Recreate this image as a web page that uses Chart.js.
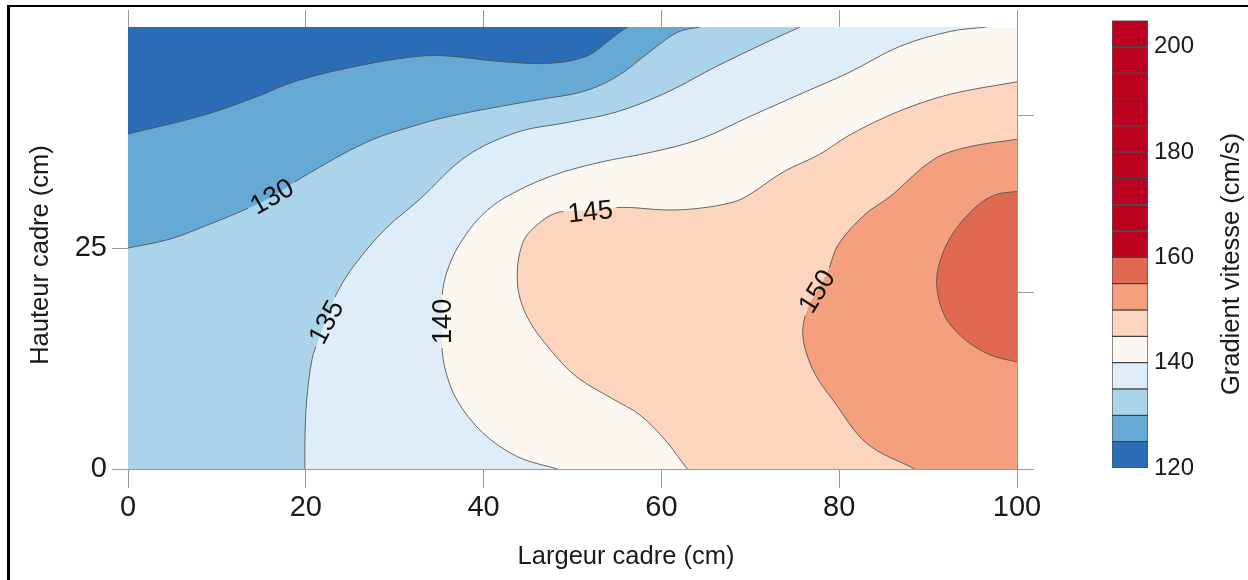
<!DOCTYPE html>
<html><head><meta charset="utf-8">
<script src="https://cdn.jsdelivr.net/npm/chart.js@4.4.1/dist/chart.umd.min.js"></script>
<style>
html,body{margin:0;padding:0;background:#fff;overflow:hidden;width:1248px;height:580px}
#wrap{position:relative;width:1248px;height:580px;overflow:hidden}
#main{position:absolute;left:0;top:0}
#cbar{position:absolute;left:1090px;top:0}
#frame{position:absolute;left:7px;top:5px;width:1400px;height:800px;border-left:3px solid #000;border-top:2px solid #000;pointer-events:none}
</style></head><body>
<div id="wrap">
<canvas id="main" width="1248" height="580"></canvas>
<canvas id="cbar" width="158" height="580"></canvas>
<div id="frame"></div>
</div>
<script>
// ---------- data ----------
const xTicks = [0, 20, 40, 60, 80, 100];
const yTicks = [0, 25];
const yRightTicks = [0, 20, 40];
const levels = [125, 130, 135, 140, 145, 150, 155];

// contour lines (x = largeur cm, y = hauteur cm)
const contour125 = [[0,37.9],[8.1,39.9],[13.7,41.8],[19.3,44.0],[26.9,45.8],[32.8,46.7],[36.2,46.7],[41.8,46.1],[47.5,45.9],[51.6,46.7],[53.9,48.3],[55.3,49.4],[56.2,50]];
const contour130 = [[0,25],[4.7,26.0],[9.2,27.7],[12.6,29.1],[16.2,30.8],[19.6,33.0],[26.9,37.0],[32.8,39.0],[36.2,39.9],[41.8,41.0],[46.3,41.8],[51.2,42.7],[55.0,44.4],[58.7,47.2],[61.8,49.4],[64.3,50]];
const contour135 = [[19.9,0],[19.9,3.3],[20.1,7.8],[20.7,12.4],[21.4,14.6],[22.5,17.5],[23.6,20.1],[25.5,23.1],[28.9,27.1],[32.8,30.5],[38.1,35.4],[43.8,38.1],[49.4,39.2],[55.0,40.4],[60.6,42.6],[66.3,45.6],[71.9,48.3],[75.6,50]];
const contour140 = [[48.3,0],[43.8,1.4],[39.9,4.1],[37.0,7.8],[35.7,11.2],[35.3,14.1],[35.4,16.7],[35.4,20.3],[36.4,23.7],[38.0,26.5],[39.8,28.7],[42.4,30.7],[47.5,33.1],[53.1,34.7],[58.7,35.8],[64.3,37.3],[70.0,39.9],[75.6,42.4],[81.2,44.9],[86.8,47.8],[92.5,49.5],[96.6,50]];
const contour145 = [[62.9,0],[60.4,3.3],[57.6,6.1],[54.4,8.0],[50.5,10.4],[47.5,13.5],[44.9,17.2],[43.8,21.1],[44.4,25.6],[46.1,27.7],[48.3,29.0],[52.0,29.3],[55.7,29.6],[60.6,29.3],[64.3,29.5],[68.1,30.2],[70.0,31.1],[73.7,33.6],[77.8,35.6],[81.2,37.8],[86.8,40.5],[92.5,42.4],[100,43.8]];
const contour150 = [[88.5,0],[83.1,2.9],[79.3,7.8],[77.3,10.7],[76.2,13.5],[75.9,15.8],[76.5,18.3],[77.5,20.1],[78.7,22.3],[79.9,25.4],[82.9,28.8],[85.7,30.8],[90.6,35.0],[94.4,36.4],[100,37.3]];
const contour155 = [[100,31.4],[97.5,31.0],[95.1,29.4],[92.5,26.2],[91.1,22.6],[91.1,19.7],[92.1,16.9],[94.2,14.6],[97.0,12.9],[100,12.1]];

// which plot corners close the region "value > level"
const regionCorners = [['TR','BR','BL'],['TR','BR','BL'],['TR','BR'],['TR','BR'],['BR'],['BR'],[]];

// contour labels
const labelText = ['130','135','140','145','150'];
const labelX = [16.2, 22.3, 35.4, 52.0, 77.5];
const labelY = [30.8, 16.6, 16.7, 29.1, 20.1];

// colour bar
const cbarEdges = [120,125,130,135,140,145,150,155,160,165,170,175,180,185,190,195,200,205];
const cbarTicks = [120, 140, 160, 180, 200];

// ---------- styles ----------
const FONT = "'Liberation Sans', Arial, Helvetica, sans-serif";
const labelAngle = [-30, -62, -90, -6, -58];
const bandColors = ['#2a6db5','#67a9d5','#abd3ea','#deedf8','#fdf7f2','#fdd5bf','#f4a07f','#df6a51'];
const topColor = '#bb0020';
const axisGray = '#999999';

const contours = [contour125, contour130, contour135, contour140, contour145, contour150, contour155];

function labelIndexFor(dsIndex) {
  const lvl = String(levels[dsIndex]);
  const out = [];
  labelText.forEach((t, i) => { if (t === lvl) out.push(i); });
  return out;
}

const contourPlugin = {
  id: 'contourFill',
  beforeDatasetsDraw(chart) {
    const {ctx, chartArea: a, scales: {x, y}} = chart;
    const corner = k => ({
      TR: [x.getPixelForValue(x.max), y.getPixelForValue(y.max)],
      BR: [x.getPixelForValue(x.max), y.getPixelForValue(y.min)],
      BL: [x.getPixelForValue(x.min), y.getPixelForValue(y.min)],
      TL: [x.getPixelForValue(x.min), y.getPixelForValue(y.max)]
    })[k];
    ctx.save();
    ctx.beginPath();
    ctx.rect(a.left, a.top, a.right - a.left, a.bottom - a.top);
    ctx.clip();
    ctx.fillStyle = bandColors[0];
    ctx.fillRect(a.left, a.top, a.right - a.left, a.bottom - a.top);
    contours.forEach((c, i) => {
      const meta = chart.getDatasetMeta(i);
      const line = meta.dataset;
      line.updateControlPoints(a, 'x');
      ctx.beginPath();
      line.path(ctx);
      regionCorners[i].forEach(k => { const p = corner(k); ctx.lineTo(p[0], p[1]); });
      ctx.closePath();
      ctx.fillStyle = bandColors[i + 1];
      ctx.fill();
    });
    ctx.restore();
  },
  beforeDatasetDraw(chart, args) {
    const idx = labelIndexFor(args.index);
    if (!idx.length) return;
    const {ctx, scales: {x, y}} = chart;
    ctx.save();
    ctx.font = '27px ' + FONT;
    ctx.beginPath();
    ctx.rect(0, 0, chart.width, chart.height);
    idx.forEach(i => {
      const cx = x.getPixelForValue(labelX[i]);
      const cy = y.getPixelForValue(labelY[i]);
      const w = ctx.measureText(labelText[i]).width + 8;
      const h = 24;
      const t = labelAngle[i] * Math.PI / 180;
      const c = Math.cos(t), s = Math.sin(t);
      const pts = [[-w/2,-h/2],[w/2,-h/2],[w/2,h/2],[-w/2,h/2]].map(([u,v]) => [cx + u*c - v*s, cy + u*s + v*c]);
      ctx.moveTo(pts[0][0], pts[0][1]);
      for (let k = 1; k < 4; k++) ctx.lineTo(pts[k][0], pts[k][1]);
      ctx.closePath();
    });
    ctx.clip('evenodd');
  },
  afterDatasetDraw(chart, args) {
    if (labelIndexFor(args.index).length) chart.ctx.restore();
  },
  afterDatasetsDraw(chart) {
    const {ctx, scales: {x, y}} = chart;
    ctx.save();
    ctx.font = '27px ' + FONT;
    ctx.fillStyle = '#111';
    ctx.textAlign = 'center';
    ctx.textBaseline = 'middle';
    labelText.forEach((t, i) => {
      ctx.save();
      ctx.translate(x.getPixelForValue(labelX[i]), y.getPixelForValue(labelY[i]));
      ctx.rotate(labelAngle[i] * Math.PI / 180);
      ctx.fillText(t, 0, 1);
      ctx.restore();
    });
    ctx.restore();
  },
  afterDraw(chart) {
    const {ctx, chartArea: a} = chart;
    ctx.save();
    ctx.fillStyle = '#1a1a1a';
    ctx.font = '25.5px ' + FONT;
    ctx.textAlign = 'center';
    ctx.textBaseline = 'middle';
    ctx.fillText('Largeur cadre (cm)', a.left + 498, a.bottom + 88);
    ctx.translate(41, a.top + 228);
    ctx.rotate(-Math.PI / 2);
    ctx.fillText('Hauteur cadre (cm)', 0, 0);
    ctx.restore();
  }
};

const setTicks = arr => scale => { scale.ticks = arr.map(v => ({value: v})); };

new Chart(document.getElementById('main'), {
  type: 'line',
  data: {
    datasets: contours.map((c, i) => ({
      label: String(levels[i]),
      data: c.map(p => ({x: p[0], y: p[1]})),
      borderColor: 'rgba(80,80,80,0.85)',
      borderWidth: 1,
      pointRadius: 0,
      tension: 0.35,
      fill: false
    }))
  },
  options: {
    responsive: false,
    animation: false,
    events: [],
    layout: {padding: 0},
    plugins: {legend: {display: false}, tooltip: {enabled: false}},
    scales: {
      x: {
        type: 'linear', position: 'bottom', min: 0, max: 100,
        afterBuildTicks: setTicks(xTicks),
        grid: {drawOnChartArea: false, tickLength: 19, color: axisGray, lineWidth: 1},
        border: {color: axisGray, width: 1},
        ticks: {font: {size: 29, family: FONT}, color: '#1a1a1a', padding: 3},
        afterFit: s => { s.height = 111; }
      },
      xTop: {
        type: 'linear', position: 'top', min: 0, max: 100,
        afterBuildTicks: setTicks(xTicks),
        grid: {drawOnChartArea: false, tickLength: 17, color: axisGray, lineWidth: 1},
        border: {color: axisGray, width: 1},
        ticks: {display: false},
        afterFit: s => { s.height = 27; }
      },
      y: {
        type: 'linear', position: 'left', min: 0, max: 50,
        afterBuildTicks: setTicks(yTicks),
        grid: {drawOnChartArea: false, tickLength: 16, color: axisGray, lineWidth: 1},
        border: {color: axisGray, width: 1},
        ticks: {font: {size: 29, family: FONT}, color: '#1a1a1a', padding: 5},
        afterFit: s => { s.width = 128; }
      },
      yRight: {
        type: 'linear', position: 'right', min: 0, max: 50,
        afterBuildTicks: setTicks(yRightTicks),
        grid: {drawOnChartArea: false, tickLength: 17, color: axisGray, lineWidth: 1},
        border: {color: axisGray, width: 1},
        ticks: {display: false},
        afterFit: s => { s.width = 231; }
      }
    }
  },
  plugins: [contourPlugin]
});

// ---------- colour bar ----------
const cbarTitlePlugin = {
  id: 'cbarTitle',
  afterDraw(chart) {
    const {ctx} = chart;
    ctx.save();
    ctx.fillStyle = '#1a1a1a';
    ctx.font = '25.5px ' + FONT;
    ctx.textAlign = 'center';
    ctx.textBaseline = 'middle';
    ctx.translate(142, 264);
    ctx.rotate(-Math.PI / 2);
    ctx.fillText('Gradient vitesse (cm/s)', 0, 0);
    ctx.restore();
  }
};

new Chart(document.getElementById('cbar'), {
  type: 'bar',
  data: {
    labels: [''],
    datasets: cbarEdges.slice(0, -1).map((lo, i) => ({
      data: [[lo, cbarEdges[i + 1]]],
      backgroundColor: i < bandColors.length ? bandColors[i] : topColor,
      borderColor: 'rgba(40,40,40,0.8)',
      borderWidth: 1,
      borderSkipped: false,
      barPercentage: 1,
      categoryPercentage: 1,
      grouped: false
    }))
  },
  options: {
    responsive: false,
    animation: false,
    events: [],
    layout: {padding: {left: 22, top: 20, bottom: 112, right: 0}},
    plugins: {legend: {display: false}, tooltip: {enabled: false}},
    scales: {
      x: {display: false},
      y: {
        position: 'right', min: 120, max: 205,
        afterBuildTicks: setTicks(cbarTicks),
        grid: {display: false, drawTicks: false},
        border: {display: false},
        ticks: {font: {size: 24, family: FONT}, color: '#1a1a1a', padding: 6},
        afterFit: s => { s.width = 100; }
      }
    }
  },
  plugins: [cbarTitlePlugin]
});
</script>
</body></html>
